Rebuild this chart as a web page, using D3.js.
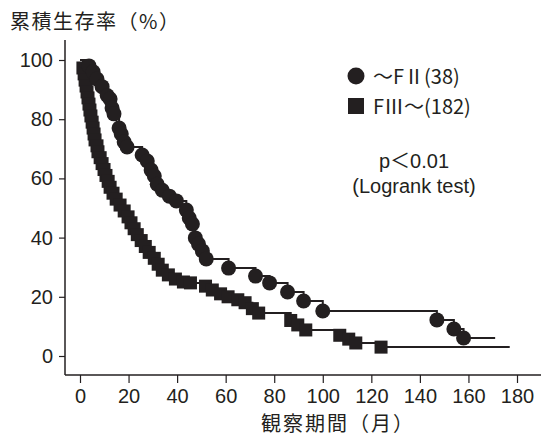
<!DOCTYPE html>
<html><head><meta charset="utf-8">
<script src="https://cdn.jsdelivr.net/npm/d3@7"></script>
<style>
body{margin:0;background:#fff;}
text{font-family:"Liberation Sans","Noto Sans CJK JP",sans-serif;fill:#231f20;}
.jp{font-family:"Noto Sans CJK JP","Liberation Sans",sans-serif;}
</style></head><body>
<svg id="c" width="542" height="441"></svg>
<script>
// ---- data ----
const xTicks = [0,20,40,60,80,100,120,140,160,180];
const yTicks = [0,20,40,60,80,100];
// group ~FII (38): event times (months) and survival (%)
const fiiTime = [3.7,5.4,7,9.1,11.2,12.4,13.2,14,16.1,17,18.2,19.4,25.6,27.7,29.3,30.6,31.8,33.9,36.8,39.7,43.8,45,46.3,47.5,48.8,50.4,52,61.2,72.3,78.1,85.5,92.1,100,147,154,158];
const fiiSurv = [98,96,93.6,91,88,86.8,83.8,81.8,77,75,72.3,70.6,67.9,65.9,62.8,60.8,58,56,54,52.4,49.3,46.6,44.6,39.9,37.8,35.5,32.8,29.7,27,24.7,21.6,18.6,15.2,12.2,9.1,6.1];
const fiiEnd = 171;
// group FIII~ (182)
const fiiiTime = [1.2,1.7,2.1,2.5,2.9,3.3,3.7,4.1,4.5,5,5.4,5.8,6.2,7,7.4,8.3,9.1,9.9,10.7,11.6,12.4,13.6,14.9,16.5,18.2,19.8,21,22.3,23.6,25.2,26.9,28.5,30.6,32.2,33.9,36.4,39.3,42.6,45.5,51.7,54.5,57.9,61,65,68,71,73.6,86.8,89.7,93,107,110.7,113.6,124];
const fiiiSurv = [97.3,95.3,93.2,91.2,89.2,87.2,85.1,83.1,81.1,79,77,75,73,71,69,67,65,63,61,59,57,55,53,51,49,47,45,43,41,39,37,35,33,31,29,27.4,26,25,24.7,23.6,22.3,21,20,19,18,16,14.5,12,10.5,8.8,7,5.7,4.4,3];
const fiiiEnd = 177;
const legendLabels = ["～FⅡ(38)","FⅢ～(182)"];
const yTitle = "累積生存率（%）";
const xTitle = "観察期間（月）";
const pText = "p＜0.01";
const testText = "(Logrank test)";

const ink = "#231f20";
const svg = d3.select("#c");
const x = d3.scaleLinear().domain([0,180]).range([80,517]);
const y = d3.scaleLinear().domain([0,100]).range([356,60]);
const axX0 = 65, axY0 = 375;

// axis lines
svg.append("line").attr("x1",axX0).attr("x2",axX0).attr("y1",40).attr("y2",axY0)
  .attr("stroke",ink).attr("stroke-width",1.5);
svg.append("line").attr("x1",axX0).attr("x2",541).attr("y1",axY0).attr("y2",axY0)
  .attr("stroke",ink).attr("stroke-width",1.5);

const gy = svg.append("g").attr("transform",`translate(${axX0},0)`)
  .call(d3.axisLeft(y).tickValues(yTicks).tickSize(6).tickSizeOuter(0).tickPadding(6));
gy.select(".domain").remove();
gy.selectAll("line").attr("stroke",ink).attr("stroke-width",1.2);
gy.selectAll("text").attr("font-size",20).style("fill",ink);

const gx = svg.append("g").attr("transform",`translate(0,${axY0})`)
  .call(d3.axisBottom(x).tickValues(xTicks).tickSize(8).tickSizeOuter(0).tickPadding(6));
gx.select(".domain").remove();
gx.selectAll("line").attr("stroke",ink).attr("stroke-width",1.2);
gx.selectAll("text").attr("font-size",20).style("fill",ink);

svg.append("text").attr("class","jp").attr("x",10).attr("y",29).attr("font-size",20)
  .attr("letter-spacing",1.5).text(yTitle);
svg.append("text").attr("class","jp").attr("x",338).attr("y",431).attr("text-anchor","middle")
  .attr("font-size",20).attr("letter-spacing",2).text(xTitle);

// curves
function build(times, surv, end){
  const pts = [[0,100]];
  times.forEach((t,i)=>pts.push([t,surv[i]]));
  pts.push([end, surv[surv.length-1]]);
  return pts;
}
const line = d3.line().x(d=>x(d[0])).y(d=>y(d[1])).curve(d3.curveStepAfter);
const fii = build(fiiTime,fiiSurv,fiiEnd);
const fiii = build(fiiiTime,fiiiSurv,fiiiEnd);
[fiii,fii].forEach(p=>svg.append("path").attr("d",line(p)).attr("fill","none")
  .attr("stroke",ink).attr("stroke-width",2));

const sq = 13;
svg.append("g").selectAll("rect").data(fiiiTime.map((t,i)=>[t,fiiiSurv[i]])).join("rect")
  .attr("x",d=>x(d[0])-sq/2).attr("y",d=>y(d[1])-sq/2).attr("width",sq).attr("height",sq)
  .attr("fill",ink);
svg.append("g").selectAll("circle").data(fiiTime.map((t,i)=>[t,fiiSurv[i]])).join("circle")
  .attr("cx",d=>x(d[0])).attr("cy",d=>y(d[1])).attr("r",7.5).attr("fill",ink);

// legend
svg.append("circle").attr("cx",356).attr("cy",76).attr("r",8.5).attr("fill",ink);
svg.append("text").attr("class","jp").attr("x",373).attr("y",84).attr("font-size",20).text(legendLabels[0]);
svg.append("rect").attr("x",348).attr("y",98).attr("width",16).attr("height",16).attr("fill",ink);
svg.append("text").attr("class","jp").attr("x",373).attr("y",114).attr("font-size",20).text(legendLabels[1]);
svg.append("text").attr("x",414).attr("y",168).attr("text-anchor","middle").attr("font-size",20).text(pText);
svg.append("text").attr("x",414).attr("y",193).attr("text-anchor","middle").attr("font-size",20).text(testText);
</script></body></html>
